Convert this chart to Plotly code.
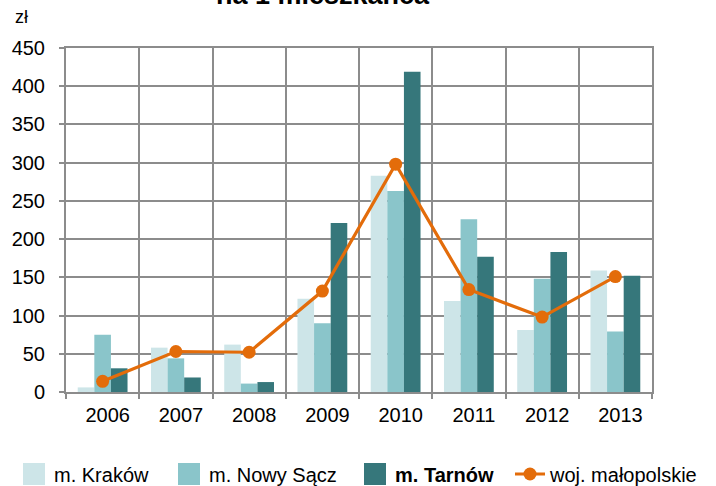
import plotly.graph_objects as go

# Dane: wartości w zł na 1 mieszkańca
years = ["2006", "2007", "2008", "2009", "2010", "2011", "2012", "2013"]
krakow = [6, 58, 62, 122, 283, 119, 81, 159]
nowy_sacz = [75, 44, 11, 90, 263, 226, 148, 79]
tarnow = [31, 19, 13, 221, 419, 177, 183, 152]
malopolskie = [14, 53, 52, 132, 298, 134, 98, 151]

series_names = ["m. Kraków", "m. Nowy Sącz", "<b>m. Tarnów</b>", "woj. małopolskie"]
y_ticks = list(range(0, 451, 50))

FONT = "Liberation Sans, Arial, sans-serif"
GRID = "#8c8c8c"
legend_ids = ["legend", "legend2", "legend3", "legend4"]
legend_x = [14, 169, 355, 510]  # left edge of each legend entry, px

fig = go.Figure()
for i, (vals, color) in enumerate([
    (krakow, "#cde5e8"),
    (nowy_sacz, "#8ac5ca"),
    (tarnow, "#36777b"),
]):
    fig.add_trace(go.Bar(x=years, y=vals, name=series_names[i], legend=legend_ids[i],
                         marker=dict(color=color, line=dict(width=0))))

fig.add_trace(go.Scatter(
    x=years, y=malopolskie, name=series_names[3], legend=legend_ids[3],
    mode="lines+markers",
    line=dict(color="#e36c0a", width=3.2),
    marker=dict(color="#e36c0a", size=13),
))

legend_style = dict(
    orientation="h", xref="container", yref="container",
    xanchor="left", y=0.0247, yanchor="middle",
    font=dict(family=FONT, size=20, color="black"),
    bgcolor="rgba(0,0,0,0)", borderwidth=0,
)
legends = {lid: dict(legend_style, x=px / 716) for lid, px in zip(legend_ids, legend_x)}

fig.update_layout(
    width=716, height=486,
    margin=dict(l=62, r=64, t=48, b=94),
    paper_bgcolor="white", plot_bgcolor="white",
    font=dict(family=FONT, size=20, color="black"),
    barmode="group", bargap=0.32, bargroupgap=0,
    showlegend=True,
    annotations=[
        dict(text="<b>na 1 mieszkańca</b>", xref="paper", yref="paper",
             x=0.439, y=1.105, xanchor="center", yanchor="bottom",
             showarrow=False, font=dict(family=FONT, size=27, color="black")),
        dict(text="zł", xref="paper", yref="paper",
             x=-0.09, y=1.055, xanchor="left", yanchor="bottom",
             showarrow=False, font=dict(family=FONT, size=18, color="black")),
    ],
    **legends,
)

fig.update_xaxes(
    type="category", range=[-0.5, 7.5], tickson="boundaries",
    showgrid=True, gridcolor=GRID, gridwidth=2,
    showline=True, linecolor=GRID, linewidth=2, mirror=True,
    ticks="outside", ticklen=5, tickwidth=2, tickcolor=GRID,
    ticklabelshift=5, ticklabelstandoff=4,
    tickfont=dict(family=FONT, size=20, color="black"),
)
fig.update_yaxes(
    range=[0, 450], tickvals=y_ticks, ticktext=[str(v) for v in y_ticks],
    showgrid=True, gridcolor=GRID, gridwidth=2, zeroline=False,
    showline=True, linecolor=GRID, linewidth=2, mirror=True,
    ticks="outside", ticklen=5, tickwidth=2, tickcolor=GRID,
    ticklabelstandoff=10,
    tickfont=dict(family=FONT, size=20, color="black"),
)

# Larger square swatches for the bar series in the legend
post = """
var gd = document.getElementById('{plot_id}');
function bigSwatches() {
  gd.querySelectorAll('.legendpoints path.legendundefined, .legendpoints .legendbar path, .legendbar').forEach(function(p) {
    if (p.tagName === 'path') { p.setAttribute('d', 'M11,11H-11V-11H11Z'); }
  });
}
bigSwatches();
gd.on('plotly_afterplot', bigSwatches);
"""

fig.write_html("out.html", post_script=post)
